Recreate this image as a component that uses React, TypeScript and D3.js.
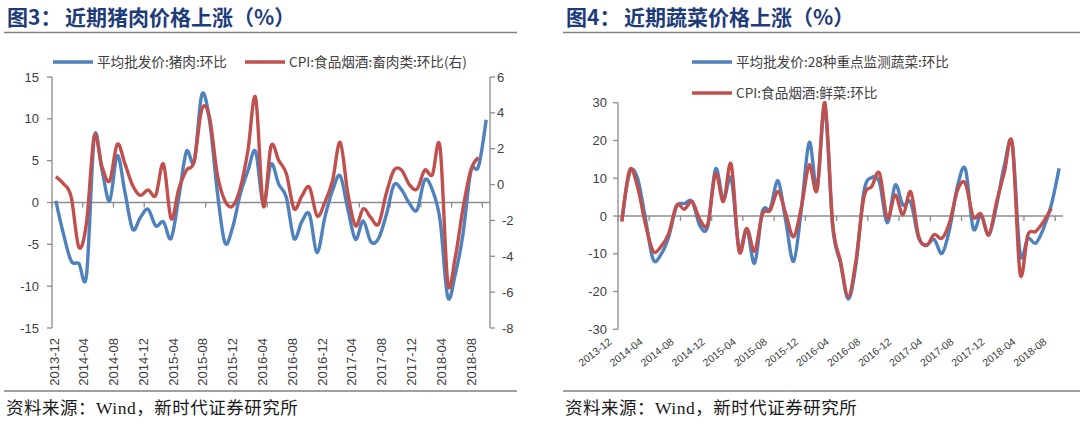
import React from "react";
import * as d3 from "d3";

// ---------- DATA ----------
const months: string[] = d3
  .timeMonths(new Date(2013, 11, 1), new Date(2018, 8, 1))
  .map(d3.timeFormat("%Y-%m"));

const tickLabels = [
  "2013-12", "2014-04", "2014-08", "2014-12", "2015-04", "2015-08", "2015-12",
  "2016-04", "2016-08", "2016-12", "2017-04", "2017-08", "2017-12", "2018-04", "2018-08",
];

// 平均批发价:猪肉:环比 (left axis), 2013-12 .. 2018-08
const porkWholesale = [
  0.2, -3.8, -7.0, -7.3, -8.6, 7.8, 3.9, 0.2, 5.6, 1.2,
  -3.2, -1.8, -0.8, -2.8, -2.3, -4.3, 0.6, 6.1, 4.9, 12.9,
  9.8, 1.4, -4.8, -3.0, 1.0, 3.8, 6.1, -0.2, 4.6, 2.2,
  0.6, -4.3, -2.3, -1.4, -6.0, -1.8, 1.4, 3.2, -0.8, -4.4,
  -2.2, -4.7, -4.3, -1.5, 2.1, 1.5, -0.1, -0.9, 2.7, 1.5,
  -2.1, -11.3, -8.5, -3.7, 3.7, 4.3, 9.9,
];
// CPI:食品烟酒:畜肉类:环比 (right axis), 2013-12 .. 2018-07
const cpiMeat = [
  0.45, 0.05, -0.7, -3.5, -2.1, 2.7, 1.0, 0.2, 2.25, 1.15,
  -0.05, -0.6, -0.3, -0.6, 1.15, -1.9, -0.25, 0.8, 1.3, 4.2,
  3.75, 0.6, -0.9, -1.2, -0.2, 1.9, 4.85, -1.2, 2.15, 1.35,
  0.6, -1.35, -0.65, -0.15, -1.75, -1.0, 0.2, 2.35, -0.5, -2.3,
  -1.35, -1.85, -2.2, -0.5, 0.8, 0.8, 0.0, -0.25, 0.8, 0.55,
  2.1, -5.45, -4.0, -1.3, 0.8, 1.5,
];

// 平均批发价:28种重点监测蔬菜:环比, 2013-12 .. 2018-08
const vegWholesale = [
  -1.2, 11.5, 10.0, -0.5, -11.5, -10.2, -5.5, 2.5, 3.3, 3.8,
  -2.6, -2.7, 12.5, 4.4, 10.0, -8.5, -3.5, -12.5, 1.2, 2.0,
  9.3, -1.5, -12.0, 2.0, 19.5, 7.5, 28.5, -3.0, -12.5, -22.0,
  -12.5, 6.5, 10.2, 8.8, -1.8, 8.2, 2.9, 3.6, -5.8, -7.7,
  -6.2, -9.9, -3.2, 8.0, 12.4, -3.3, 0.3, -5.0, 2.9, 13.5,
  19.0, -9.9, -5.9, -7.2, -3.3, 2.9, 12.6,
];
// CPI:食品烟酒:鲜菜:环比, 2013-12 .. 2018-07
const cpiVeg = [
  -1.5, 12.2, 7.8, -2.0, -9.3, -8.1, -4.6, 2.8, 1.8, 3.8,
  -1.0, -2.1, 11.2, 3.8, 13.7, -9.3, -3.3, -9.3, 0.5, 1.5,
  6.5, 0.5, -5.5, 2.5, 13.5, 6.9, 30.0, -2.0, -12.0, -21.3,
  -11.5, 5.0, 7.8, 11.3, -0.6, 5.6, 0.3, 6.4, -5.3, -7.8,
  -4.9, -5.9, -1.5, 6.9, 8.6, -0.2, 0.5, -5.0, 3.8, 11.7,
  19.2, -15.2, -5.0, -4.1, -1.5, 2.0,
];

const leftTicks = [15, 10, 5, 0, -5, -10, -15];
const rightTicks = [6, 4, 2, 0, -2, -4, -6, -8];
const vegTicks = [30, 20, 10, 0, -10, -20, -30];

// ---------- STYLE ----------
const BLUE = "#4F81BD";
const RED = "#C0504D";
const AXIS = "#8C8C8C";
const TXT = "#404040";
const TITLE = "#1F3C7A";
const CJK = "'Noto Sans CJK SC', 'Noto Sans', sans-serif";
const NUM = "'Liberation Sans', Arial, sans-serif";
const SERIF = "'Liberation Serif', 'Noto Sans CJK SC', serif";

const curve = d3.curveCardinal.tension(0);

function Header({ x0, x1, num, title }: { x0: number; x1: number; num: string; title: string }) {
  return (
    <g>
      <text x={x0 + 3} y={24.5} fontFamily={CJK} fontWeight={700} fontSize={21} fill={TITLE}>
        {`图${num}：`}
      </text>
      <text x={x0 + 61} y={24.5} fontFamily={CJK} fontWeight={700} fontSize={21} fill={TITLE}>
        {title}
      </text>
      <line x1={x0} x2={x1} y1={32.5} y2={32.5} stroke="#7F7F7F" strokeWidth={1.5} />
      <line x1={x0} x2={x1} y1={391} y2={391} stroke="#7F7F7F" strokeWidth={1.5} />
      <text x={x0 + 2} y={414} fontFamily={SERIF} fontSize={17.5} letterSpacing={0.5} fill="#1a1a1a">
        资料来源：Wind，新时代证券研究所
      </text>
    </g>
  );
}

function LegendItem({ x, y, color, label }: { x: number; y: number; color: string; label: string }) {
  return (
    <g>
      <line x1={x} x2={x + 40} y1={y} y2={y} stroke={color} strokeWidth={3.5} />
      <text x={x + 44} y={y} dy="0.35em" fontFamily={CJK} fontSize={13.6} fill={TXT}>
        {label}
      </text>
    </g>
  );
}

function PorkChart() {
  const x = d3.scaleBand<string>().domain(months).range([52, 490]);
  const cx = (m: string) => (x(m) as number) + x.bandwidth() / 2;
  const yL = d3.scaleLinear().domain([-15, 15]).range([328, 77]);
  const yR = d3.scaleLinear().domain([-8, 6]).range([328, 77]);
  const labelX = d3.scalePoint<string>().domain(tickLabels).range([54, 471]);
  const blueLine = d3
    .line<number>()
    .x((_, i) => cx(months[i]))
    .y((d) => yL(d))
    .curve(curve);
  const redLine = d3
    .line<number>()
    .x((_, i) => cx(months[i]))
    .y((d) => yR(d))
    .curve(curve);
  const boundaryTicks = months.filter((_, i) => i % 4 === 0);
  return (
    <g>
      <Header x0={4} x1={517} num="3" title="近期猪肉价格上涨（%）" />
      <LegendItem x={53} y={62} color={BLUE} label="平均批发价:猪肉:环比" />
      <LegendItem x={245} y={62} color={RED} label="CPI:食品烟酒:畜肉类:环比(右)" />
      {/* left axis */}
      <line x1={52} x2={52} y1={yL(15)} y2={yL(-15)} stroke={AXIS} strokeWidth={1.3} />
      {leftTicks.map((t) => (
        <g key={"l" + t}>
          <line x1={47} x2={52} y1={yL(t)} y2={yL(t)} stroke={AXIS} strokeWidth={1.3} />
          <text x={39} y={yL(t)} dy="0.35em" textAnchor="end" fontFamily={NUM} fontSize={13} fill={TXT}>
            {t}
          </text>
        </g>
      ))}
      {/* right axis */}
      <line x1={490} x2={490} y1={yR(6)} y2={yR(-8)} stroke={AXIS} strokeWidth={1.3} />
      {rightTicks.map((t) => (
        <g key={"r" + t}>
          <line x1={490} x2={495} y1={yR(t)} y2={yR(t)} stroke={AXIS} strokeWidth={1.3} />
          <text x={t < 0 ? 502 : 497} y={yR(t)} dy="0.35em" textAnchor="start" fontFamily={NUM} fontSize={13} fill={TXT}>
            {t}
          </text>
        </g>
      ))}
      {/* category axis at 0 */}
      <line x1={52} x2={490} y1={yL(0)} y2={yL(0)} stroke={AXIS} strokeWidth={1.3} />
      {boundaryTicks.map((m) => (
        <line key={"t" + m} x1={x(m)} x2={x(m)} y1={yL(0)} y2={yL(0) + 5} stroke={AXIS} strokeWidth={1.3} />
      ))}
      {tickLabels.map((l) => (
        <text
          key={"x" + l}
          transform={`translate(${labelX(l)},338) rotate(-90)`}
          textAnchor="end"
          dominantBaseline="central"
          fontFamily={NUM}
          fontSize={13}
          fill={TXT}
        >
          {l}
        </text>
      ))}
      <path d={blueLine(porkWholesale) || ""} fill="none" stroke={BLUE} strokeWidth={3.4} strokeLinejoin="round" />
      <path d={redLine(cpiMeat) || ""} fill="none" stroke={RED} strokeWidth={3.4} strokeLinejoin="round" />
    </g>
  );
}

function VegChart() {
  const x = d3.scaleBand<string>().domain(months).range([618, 1063]);
  const cx = (m: string) => (x(m) as number) + x.bandwidth() / 2;
  const y = d3.scaleLinear().domain([-30, 30]).range([329.3, 102.7]);
  const labelX = d3.scalePoint<string>().domain(tickLabels).range([610, 1045]);
  const line = d3
    .line<number>()
    .x((_, i) => cx(months[i]))
    .y((d) => y(d))
    .curve(curve);
  const boundaryTicks = months.filter((_, i) => i % 4 === 0);
  return (
    <g>
      <Header x0={563} x1={1080} num="4" title="近期蔬菜价格上涨（%）" />
      <LegendItem x={692} y={62} color={BLUE} label="平均批发价:28种重点监测蔬菜:环比" />
      <LegendItem x={692} y={93} color={RED} label="CPI:食品烟酒:鲜菜:环比" />
      <line x1={618} x2={618} y1={y(30)} y2={y(-30)} stroke={AXIS} strokeWidth={1.3} />
      {vegTicks.map((t) => (
        <g key={"v" + t}>
          <line x1={613} x2={618} y1={y(t)} y2={y(t)} stroke={AXIS} strokeWidth={1.3} />
          <text x={607} y={y(t)} dy="0.35em" textAnchor="end" fontFamily={NUM} fontSize={13} fill={TXT}>
            {t}
          </text>
        </g>
      ))}
      <line x1={618} x2={1063} y1={y(0)} y2={y(0)} stroke={AXIS} strokeWidth={1.3} />
      {boundaryTicks.map((m) => (
        <line key={"vt" + m} x1={x(m)} x2={x(m)} y1={y(0)} y2={y(0) + 5} stroke={AXIS} strokeWidth={1.3} />
      ))}
      {tickLabels.map((l) => (
        <text
          key={"vx" + l}
          transform={`translate(${labelX(l)},340) rotate(-38)`}
          textAnchor="end"
          dominantBaseline="central"
          fontFamily={NUM}
          fontSize={10.5}
          fill={TXT}
        >
          {l}
        </text>
      ))}
      <path d={line(vegWholesale) || ""} fill="none" stroke={BLUE} strokeWidth={3.4} strokeLinejoin="round" />
      <path d={line(cpiVeg) || ""} fill="none" stroke={RED} strokeWidth={3.4} strokeLinejoin="round" />
    </g>
  );
}

export default function App() {
  return (
    <div style={{ position: "absolute", left: 0, top: 0 }}>
      <svg width={1080} height={424} viewBox="0 0 1080 424" style={{ display: "block", background: "#fff" }}>
        <rect width={1080} height={424} fill="#fff" />
        <PorkChart />
        <VegChart />
      </svg>
    </div>
  );
}
